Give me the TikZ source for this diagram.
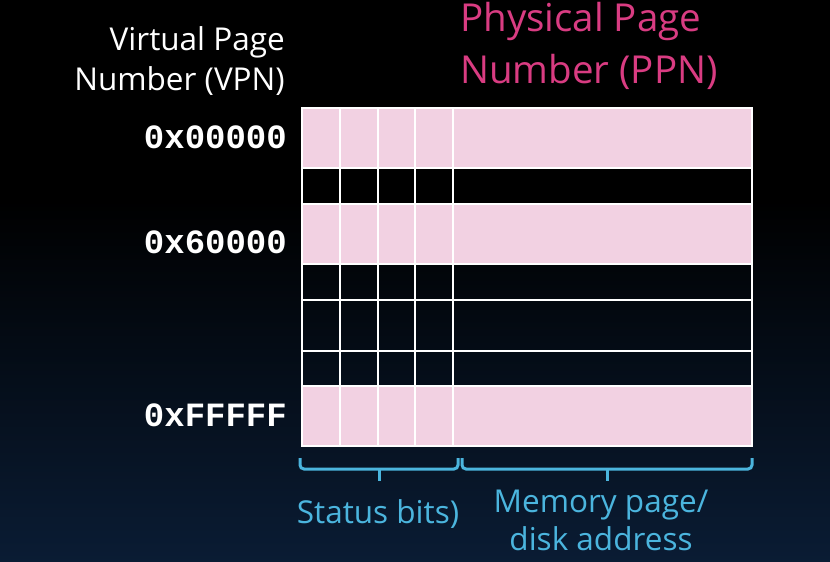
\documentclass[tikz,border=0pt]{standalone}
\usepackage{fontspec}
\setmainfont{Open Sans}
\setmonofont{Liberation Mono}

\definecolor{ppnpink}{HTML}{D93C82}
\definecolor{rowpink}{HTML}{F2D1E2}
\definecolor{bracecol}{HTML}{4BB5DE}
\definecolor{bgnavy}{HTML}{0A1C34}

\begin{document}
\begin{tikzpicture}[x=1pt,y=-1pt,
  lbl/.style={font=\fontsize{31.5}{38}\selectfont},
  hex/.style={font=\ttfamily\bfseries\fontsize{34}{40}\selectfont,white,anchor=base east,inner sep=0pt},
  grid/.style={white,line width=1.6pt},
  brc/.style={bracecol,line width=3pt,rounded corners=4pt}]

\useasboundingbox (0,0) rectangle (830,562);
\fill[black] (0,0) rectangle (830,200);
\shade[top color=black,bottom color=bgnavy] (0,200) rectangle (830,562);

% page table rows
\fill[rowpink] (302,108) rectangle (752,168);
\fill[rowpink] (302,204) rectangle (752,264);
\fill[rowpink] (302,386) rectangle (752,446);

\draw[grid] (302,108) rectangle (752,446);
\draw[grid] (302,168) -- (752,168);
\draw[grid] (302,204) -- (752,204);
\draw[grid] (302,264) -- (752,264);
\draw[grid] (302,300) -- (752,300);
\draw[grid] (302,351) -- (752,351);
\draw[grid] (302,386) -- (752,386);
\draw[grid] (340,108) -- (340,446);
\draw[grid] (378,108) -- (378,446);
\draw[grid] (415,108) -- (415,446);
\draw[grid] (453,108) -- (453,446);

% headings
\node[lbl,white,anchor=base east,inner sep=0pt] (vpnA) at (285,50) {Virtual Page};
\node[lbl,white,anchor=base east,inner sep=0pt] (vpnB) at (285,90) {Number (VPN)};
\node[ppnpink,anchor=base west,inner sep=0pt,font=\fontsize{38.5}{46}\selectfont] (ppnA) at (460,31) {Physical Page};
\node[ppnpink,anchor=base west,inner sep=0pt,font=\fontsize{38.5}{46}\selectfont] (ppnB) at (460,83) {Number (PPN)};

% addresses
\node[hex] (adrA) at (287,148) {0x00000};
\node[hex] (adrB) at (287,253) {0x60000};
\node[hex] (adrC) at (287,426) {0xFFFFF};

% brackets under the table
\draw[brc] (300,458) -- (300,469) -- (458,469) -- (458,458);
\draw[bracecol,line width=3pt] (379,469) -- (379,481);
\draw[brc] (462,458) -- (462,469) -- (752,469) -- (752,458);
\draw[bracecol,line width=3pt] (607,469) -- (607,481);

\node[lbl,bracecol,anchor=base,inner sep=0pt] (stat) at (378,523) {Status bits)};
\node[lbl,bracecol,anchor=base,inner sep=0pt] (memA) at (601,512) {Memory page/};
\node[lbl,bracecol,anchor=base,inner sep=0pt] (memB) at (601,550) {disk address};

\end{tikzpicture}
\end{document}
